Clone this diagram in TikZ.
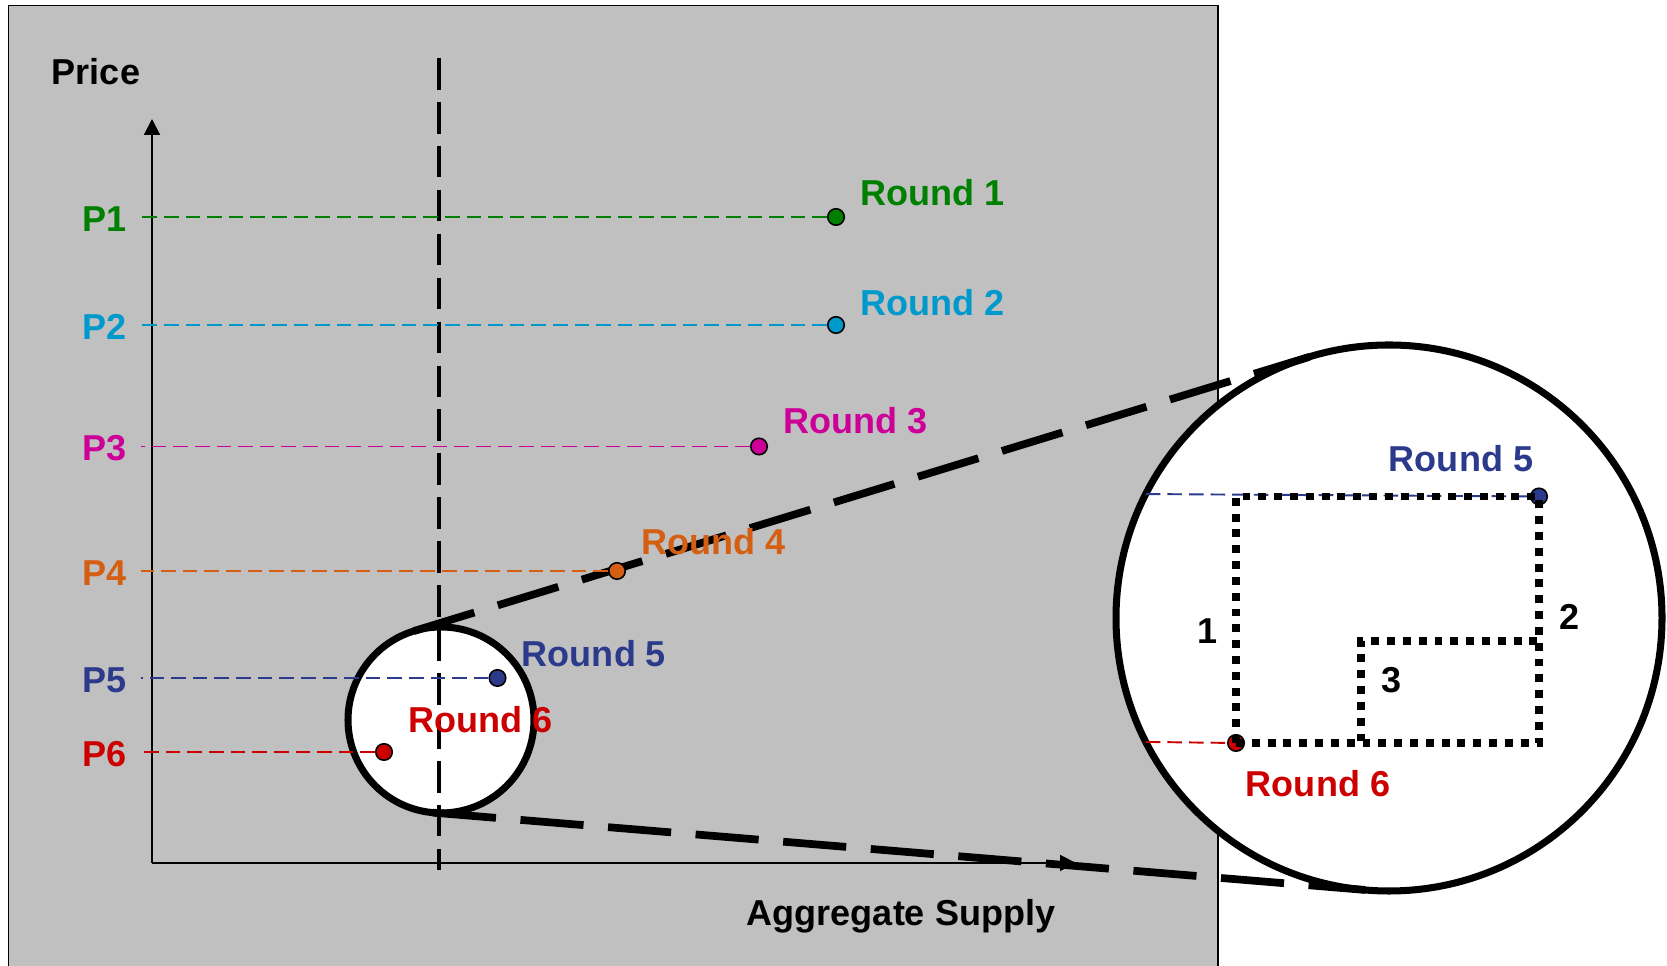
\documentclass[tikz,border=0pt]{standalone}
\usepackage{fontspec}
\setmainfont{Liberation Sans}
\usetikzlibrary{arrows.meta}
\definecolor{bg}{RGB}{192,192,192}
\definecolor{c1}{RGB}{0,128,0}
\definecolor{c2}{RGB}{0,153,204}
\definecolor{c3}{RGB}{204,0,153}
\definecolor{c4}{RGB}{212,94,18}
\definecolor{c5}{RGB}{44,58,140}
\definecolor{c6}{RGB}{204,0,0}
\begin{document}
\begin{tikzpicture}[
    lbl/.style={font=\fontsize{20.5}{24}\selectfont\bfseries, inner sep=0pt},
    pline/.style={line width=1.1pt, dash pattern=on 8.3pt off 4pt},
    rdot/.style={circle, draw=black, line width=0.9pt, inner sep=0pt, minimum size=0.33cm},
    lens/.style={circle, draw=black, fill=white, line width=4pt, inner sep=0pt, outer sep=0pt},
    zoomline/.style={line width=4.4pt, dash pattern=on 36pt off 14pt},
    pathdots/.style={line width=4.5pt, dash pattern=on 4.5pt off 4.5pt}]
  \useasboundingbox (0,0) rectangle (33.34,19.32);
  \clip (0,0) rectangle (33.34,19.32);
  % ozadje
  \draw [fill=bg, line width=1.1pt] (0.17,-1) rectangle (24.36,19.21);
  % koordinate
  \coordinate (O) at (3.04,2.06);
  \coordinate (Y) at (3.04,16.94);
  \coordinate (X) at (21.52,2.06);
  \coordinate (Vt) at (8.78,18.16);
  \coordinate (Vb) at (8.78,1.92);
  \coordinate (bend) at (27.22,6.50);
  % osi
  \draw [-{Triangle[length=9pt, width=9pt]}, line width=1.1pt] (O) -- (Y);
  \draw [-{Triangle[length=9pt, width=9pt]}, line width=1.1pt] (O) -- (X);
  \node [lbl] (price) at (1.92,17.88) {Price};
  \node [lbl] (supply) at (18.02,1.00) {Aggregate Supply};
  % lupa
  \node [lens, minimum size=3.72cm] (lensS) at (8.82,4.92) {};
  \node [lens, minimum size=10.92cm] (lensB) at (27.78,6.96) {};
  \draw [zoomline] (lensS.107) -- (lensB.107);
  \draw [zoomline] (lensS.265.3) -- (lensB.265.3);
  \draw [line width=2.2pt, dash pattern=on 18pt off 7pt] (Vt) -- (Vb);
  % kroga
  \node [rdot, fill=c1] (d1) at (16.72,14.98) {};
  \node [rdot, fill=c2] (d2) at (16.72,12.82) {};
  \node [rdot, fill=c3] (d3) at (15.18,10.39) {};
  \node [rdot, fill=c4] (d4) at (12.34,7.90) {};
  \node [rdot, fill=c5] (d5) at (9.95,5.76) {};
  \node [rdot, fill=c6] (d6) at (7.68,4.28) {};
  % cene
  \node [lbl, text=c1, anchor=east] (p1) at (2.54,14.94) {P1};
  \node [lbl, text=c2, anchor=east] (p2) at (2.54,12.78) {P2};
  \node [lbl, text=c3, anchor=east] (p3) at (2.54,10.35) {P3};
  \node [lbl, text=c4, anchor=east] (p4) at (2.54,7.86) {P4};
  \node [lbl, text=c5, anchor=east] (p5) at (2.54,5.72) {P5};
  \node [lbl, text=c6, anchor=east] (p6) at (2.54,4.24) {P6};
  \draw [pline, c1] (d1) -- ([xshift=0.28cm]p1.east |- d1);
  \draw [pline, c2] (d2) -- ([xshift=0.28cm]p2.east |- d2);
  \draw [pline, c3] (d3) -- ([xshift=0.28cm]p3.east |- d3);
  \draw [pline, c4] (d4) -- ([xshift=0.28cm]p4.east |- d4);
  \draw [pline, c5] (d5) -- ([xshift=0.28cm]p5.east |- d5);
  \draw [pline, c6] (d6) -- ([xshift=0.28cm]p6.east |- d6);
  % oznake
  \node [lbl, text=c1] (r1) at ([shift={(1.93,0.48)}]d1) {Round 1};
  \node [lbl, text=c2] (r2) at ([shift={(1.93,0.44)}]d2) {Round 2};
  \node [lbl, text=c3] (r3) at ([shift={(1.93,0.51)}]d3) {Round 3};
  \node [lbl, text=c4] (r4) at ([shift={(1.93,0.58)}]d4) {Round 4};
  \node [lbl, text=c5] (r5) at ([shift={(1.93,0.48)}]d5) {Round 5};
  \node [lbl, text=c6] (r6) at ([shift={(1.93,0.64)}]d6) {Round 6};
  % povecava
  \node [rdot, fill=c5] (e5) at (30.78,9.39) {};
  \node [rdot, fill=c6] (e6) at (24.72,4.46) {};
  \draw [pline, c5] (lensB.153.6) -- (e5);
  \draw [pline, c6] (lensB.207.3) -- (e6);
  \draw [pathdots] (e6.center) |- (e5.center);
  \draw [pathdots] (e6.center) -| (e5.center);
  \draw [pathdots] (e6.center) -| (bend) -| (e5.center);
  \node [lbl] (n1) at (24.16,6.69) {1};
  \node [lbl] (n2) at (31.38,6.98) {2};
  \node [lbl] (n3) at (27.82,5.72) {3};
  \node [lbl, text=c5] (z5) at (29.22,10.14) {Round 5};
  \node [lbl, text=c6] (z6) at (26.36,3.65) {Round 6};
\end{tikzpicture}
\end{document}
